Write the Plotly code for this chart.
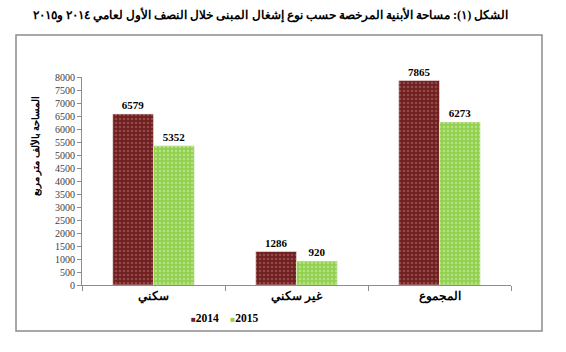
import plotly.graph_objects as go

categories = ["سكني", "غير سكني", "المجموع"]
values_2014 = [6579, 1286, 7865]
values_2015 = [5352, 920, 6273]
series_names = ["2014", "2015"]
series_colors = ["#6e1f1f", "#92d050"]
y_ticks = list(range(0, 8001, 500))

title_text = "الشكل (١): مساحة الأبنية المرخصة حسب نوع إشغال المبنى خلال النصف الأول لعامي ٢٠١٤ و٢٠١٥"
y_title = "المساحة بالألف متر مربع"

serif = "Liberation Serif, Times New Roman, DejaVu Serif, serif"

fig = go.Figure()
fig.add_trace(go.Bar(
    x=categories, y=values_2014, name=series_names[0], showlegend=False,
    marker=dict(color=series_colors[0],
                line=dict(color="#f2e6e6", width=0.6),
                pattern=dict(shape=".", fillmode="replace", bgcolor=series_colors[0],
                             fgcolor="#944848", size=4, solidity=0.35)),
    text=values_2014, textposition="outside", cliponaxis=False,
    textfont=dict(family=serif, size=11, color="black", weight="bold"),
))
fig.add_trace(go.Bar(
    x=categories, y=values_2015, name=series_names[1], showlegend=False,
    marker=dict(color=series_colors[1],
                line=dict(color="#e8f6d8", width=0.6),
                pattern=dict(shape=".", fillmode="replace", bgcolor=series_colors[1],
                             fgcolor="#b6e283", size=4, solidity=0.3)),
    text=values_2015, textposition="outside", cliponaxis=False,
    textfont=dict(family=serif, size=11, color="black", weight="bold"),
))

W, H = 566, 352
ml, mr, mt, mb = 82, 55, 77, 67
pw, ph = W - ml - mr, H - mt - mb

def px_x(x):
    return (x - ml) / pw

def px_y(y):
    return (H - y - mb) / ph

legend_text = "&nbsp;&nbsp;&nbsp;&nbsp;".join(
    f"<span style='color:{c}; font-size:8px'>■</span>{n}" for n, c in zip(series_names, series_colors)
)

fig.update_layout(
    width=W, height=H,
    margin=dict(l=ml, r=mr, t=mt, b=mb, pad=0),
    paper_bgcolor="white", plot_bgcolor="white",
    barmode="group", bargap=0.43, bargroupgap=0.0,
    font=dict(family=serif, color="black"),
    xaxis=dict(showline=True, linecolor="#8c8c8c", linewidth=1,
               ticks="outside", tickson="boundaries", ticklen=5, tickcolor="#8c8c8c",
               tickfont=dict(family=serif, size=11.5, color="black", weight="bold"),
               showgrid=False, zeroline=False),
    yaxis=dict(range=[0, 8000], tickvals=y_ticks, showline=True, linecolor="#8c8c8c",
               linewidth=1, ticks="outside", ticklen=4, tickcolor="#8c8c8c",
               tickfont=dict(family=serif, size=10, color="#404040"),
               showgrid=False, zeroline=False),
    shapes=[dict(type="rect", xref="paper", yref="paper",
                 x0=px_x(16), x1=px_x(542), y0=px_y(331), y1=px_y(35),
                 line=dict(color="#8c8c8c", width=1.5), fillcolor="rgba(0,0,0,0)",
                 layer="below")],
    annotations=[
        dict(text=title_text, xref="paper", yref="paper", x=px_x(270), y=px_y(15),
             xanchor="center", yanchor="middle", showarrow=False,
             font=dict(family=serif, size=12.3, color="black", weight="bold")),
        dict(text=y_title, xref="paper", yref="paper", x=px_x(36), y=px_y(146),
             xanchor="center", yanchor="middle", showarrow=False, textangle=-90,
             font=dict(family=serif, size=10, color="black", weight="bold")),
        dict(text=legend_text, xref="paper", yref="paper", x=px_x(224), y=px_y(318),
             xanchor="center", yanchor="middle", showarrow=False,
             font=dict(family=serif, size=11.5, color="black", weight="bold")),
    ],
)

fig.write_html("out.html")
